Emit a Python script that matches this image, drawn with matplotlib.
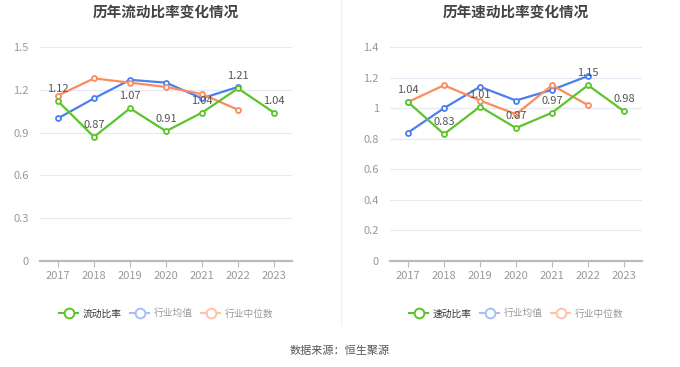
import numpy as np
import matplotlib
matplotlib.use("Agg")
import matplotlib.pyplot as plt
from matplotlib.lines import Line2D

plt.rcParams['font.family'] = ['Noto Sans CJK SC', 'DejaVu Sans']

years = ['2017', '2018', '2019', '2020', '2021', '2022', '2023']

# 流动比率 chart
current_ratio = [1.12, 0.87, 1.07, 0.91, 1.04, 1.21, 1.04]
current_avg = [1.00, 1.14, 1.27, 1.25, 1.14, 1.22]
current_median = [1.16, 1.28, 1.25, 1.22, 1.17, 1.06]

# 速动比率 chart
quick_ratio = [1.04, 0.83, 1.01, 0.87, 0.97, 1.15, 0.98]
quick_avg = [0.84, 1.00, 1.14, 1.05, 1.12, 1.21]
quick_median = [1.04, 1.15, 1.05, 0.96, 1.15, 1.02]

GREEN = '#5cc42b'
BLUE = '#4a7ff0'
ORANGE = '#fb8c5e'


def draw(ax, title, name, main, avg, med, yticks):
    x = np.arange(len(years))
    kw = dict(lw=1.6, marker='o', markersize=3.6, markerfacecolor='white',
              markeredgewidth=1.3)
    ax.plot(x[:len(avg)], avg, color=BLUE, zorder=3, **kw)
    ax.plot(x[:len(med)], med, color=ORANGE, zorder=3, **kw)
    ax.plot(x, main, color=GREEN, zorder=4, **kw)
    for xi, v in zip(x, main):
        ax.annotate(f'{v:.2f}', (xi, v), xytext=(0, 5), textcoords='offset points',
                    ha='center', va='bottom', fontsize=8, color='#555555', zorder=5)
    ax.set_xlim(-0.5, len(years) - 0.5)
    ax.set_ylim(0, yticks[-1])
    ax.set_yticks(yticks)
    ax.set_yticklabels([f'{t:g}' for t in yticks])
    ax.set_xticks(x)
    ax.set_xticklabels(years)
    ax.tick_params(axis='y', length=0, labelsize=8, labelcolor='#999999', pad=8)
    ax.tick_params(axis='x', length=4, color='#bbbbbb', labelsize=8,
                   labelcolor='#999999', pad=3)
    ax.grid(axis='y', color='#e6e9f4', lw=0.8)
    ax.set_axisbelow(True)
    for s in ['top', 'right', 'left']:
        ax.spines[s].set_visible(False)
    ax.spines['bottom'].set_color('#bbbbbb')
    ax.spines['bottom'].set_linewidth(1.6)
    ax.set_title(title, fontsize=10.5, fontweight='bold', color='#444444', pad=22)

    lk = dict(marker='o', markersize=7, markerfacecolor='white', markeredgewidth=1.4, lw=1.5)
    handles = [Line2D([], [], color=GREEN, **lk),
               Line2D([], [], color='#a6bff5', **lk),
               Line2D([], [], color='#fdc2a8', **lk)]
    leg = ax.legend(handles, [name, '行业均值', '行业中位数'], loc='center',
                    bbox_to_anchor=(0.5, -0.245), ncol=3, frameon=False,
                    fontsize=7, handlelength=2.0, handletextpad=0.4,
                    columnspacing=0.9)
    for i, t in enumerate(leg.get_texts()):
        t.set_color('#333333' if i == 0 else '#999999')


fig = plt.figure(figsize=(6.8, 3.67), dpi=100)
ax1 = fig.add_axes([40 / 680, 1 - 261 / 367, 252 / 680, 214 / 367])
ax2 = fig.add_axes([390 / 680, 1 - 261 / 367, 252 / 680, 214 / 367])

draw(ax1, '历年流动比率变化情况', '流动比率', current_ratio, current_avg, current_median,
     [0, 0.3, 0.6, 0.9, 1.2, 1.5])
draw(ax2, '历年速动比率变化情况', '速动比率', quick_ratio, quick_avg, quick_median,
     [0, 0.2, 0.4, 0.6, 0.8, 1.0, 1.2, 1.4])

fig.add_artist(Line2D([341 / 680, 341 / 680], [1 - 325 / 367, 1], color='#f0f0f0', lw=1))
fig.text(0.5, 1 - 351 / 367, '数据来源：恒生聚源', ha='center', va='center',
         fontsize=8, color='#555555')

fig.savefig('out.png', dpi=100, facecolor='white')
